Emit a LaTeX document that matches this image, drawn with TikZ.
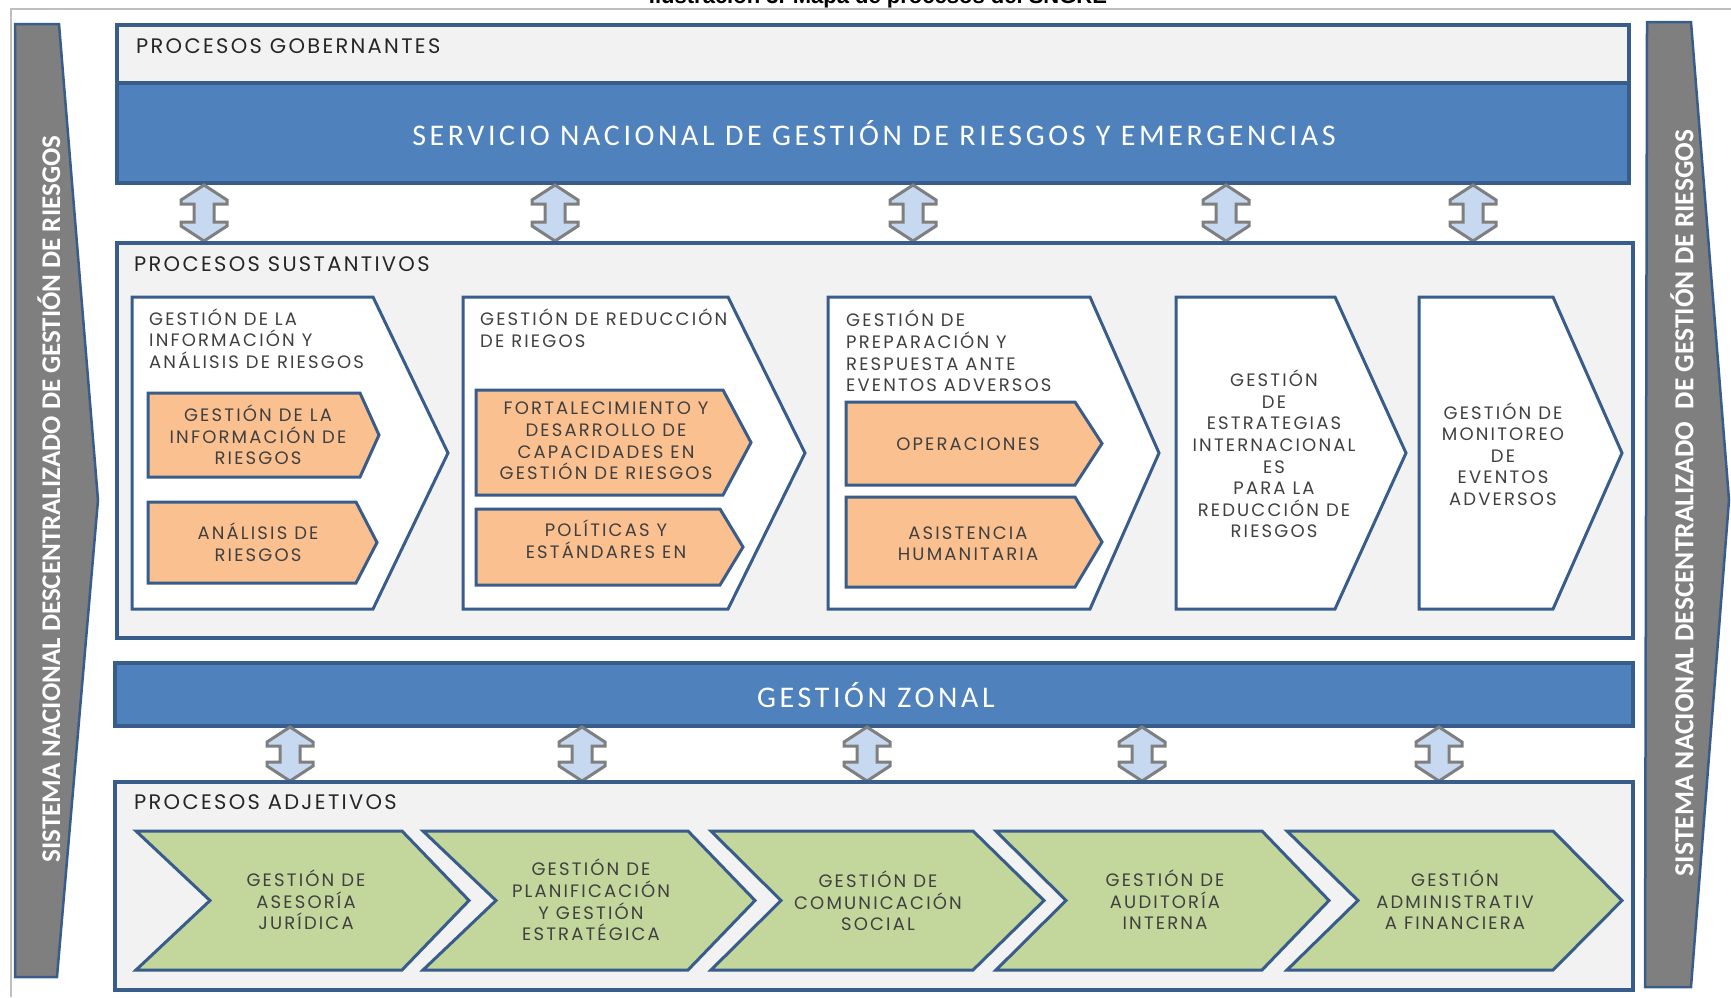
\documentclass[tikz,border=0pt]{standalone}
\usepackage{fontspec}
\setmainfont{Poppins}
\newfontfamily\geoS{Poppins}[LetterSpace=11]
\newfontfamily\geoT{Poppins}[LetterSpace=12]
\newfontfamily\carl{Carlito}
\newfontfamily\carlS{Carlito}[LetterSpace=12]
\newfontfamily\arialf{Liberation Sans}
\definecolor{bordblue}{HTML}{385D8A}
\definecolor{bandblue}{HTML}{4F81BD}
\definecolor{boxgray}{HTML}{F2F2F2}
\definecolor{orangefill}{HTML}{FAC090}
\definecolor{greenfill}{HTML}{C3D69B}
\definecolor{arrfill}{HTML}{C6D9F1}
\definecolor{arrgray}{HTML}{7F7F7F}
\definecolor{bargray}{HTML}{7F7F7F}
\definecolor{txtgray}{HTML}{404040}
\definecolor{framegray}{HTML}{BFBFBF}
\newcommand\chevshape[7]{%
  \draw[#1] (#2,#3) -- (#5,#3) -- (#6,{(#3+#4)/2}) -- (#5,#4) -- (#2,#4) -- ({#2+#7},{(#3+#4)/2}) -- cycle;}
\newcommand\udarrow[3]{%
  \draw[udarr] (#1,#2) -- ({#1+23},{#2+15}) -- ({#1+23},{#2+19}) -- ({#1+10},{#2+19}) -- ({#1+10},{#3-19}) -- ({#1+23},{#3-19}) -- ({#1+23},{#3-15}) -- (#1,#3) -- ({#1-23},{#3-15}) -- ({#1-23},{#3-19}) -- ({#1-10},{#3-19}) -- ({#1-10},{#2+19}) -- ({#1-23},{#2+19}) -- ({#1-23},{#2+15}) -- cycle;}
\begin{document}
\begin{tikzpicture}[x=1pt,y=-1pt,
  bigbox/.style={draw=bordblue,line width=3.5pt,fill=boxgray},
  band/.style={draw=bordblue,line width=3.5pt,fill=bandblue},
  whitechev/.style={draw=bordblue,line width=3pt,fill=white},
  orangechev/.style={draw=bordblue,line width=3pt,fill=orangefill},
  greenchev/.style={draw=bordblue,line width=3pt,fill=greenfill},
  udarr/.style={draw=arrgray,line width=3pt,fill=arrfill,line join=miter},
  sidebar/.style={draw=bordblue,line width=2.5pt,fill=bargray},
  sectlabel/.style={font=\geoS\fontsize{21}{23}\selectfont,text=black!85,inner sep=0pt,anchor=base west},
  bandlabel/.style={font=\carlS\fontsize{30}{34}\selectfont,text=white,inner sep=0pt},
  sidelabel/.style={font=\carl\bfseries\fontsize{27}{30}\selectfont,text=white,inner sep=0pt,rotate=90},
  ptext/.style={font=\geoT\fontsize{18}{21.6}\selectfont,text=txtgray,inner sep=0pt,align=center},
  ptextl/.style={font=\geoT\fontsize{18}{21.6}\selectfont,text=txtgray,inner sep=0pt,align=left,anchor=west}
]
\useasboundingbox (0,0) rectangle (1731,997);
% caption (cut off at top, as in the reference)
\node[font=\arialf\bfseries\fontsize{22}{24}\selectfont,anchor=base,inner sep=0pt] (caption) at (878,3) {Ilustración 3. Mapa de procesos del SNGRE};
% frame
\draw[framegray,line width=2pt] (1731,9) -- (11,9) -- (11,997);
% side bars
\draw[sidebar] (15,24) -- (59,24) -- (98,500) -- (57,977) -- (15,977) -- cycle;
\draw[sidebar] (1647,22) -- (1691,22) -- (1729,500) -- (1691,987) -- (1645,987) -- cycle;
\node[sidelabel] (leftlabel) at (49,499) {SISTEMA NACIONAL DESCENTRALIZADO DE GESTIÓN DE RIESGOS};
\node[sidelabel,font=\carl\bfseries\fontsize{27.5}{30}\selectfont] (rightlabel) at (1682,503) {SISTEMA NACIONAL DESCENTRALIZADO\ \ DE GESTIÓN DE RIESGOS};
% governing
\draw[bigbox] (117,25) rectangle (1629,83);
\draw[band] (117,83) rectangle (1629,183);
\node[sectlabel] (gob) at (136,53) {PROCESOS GOBERNANTES};
\node[bandlabel] (sngre) at (874,133) {SERVICIO NACIONAL DE GESTIÓN DE RIESGOS Y EMERGENCIAS};
% arrows row 1
\udarrow{204}{185}{241}
\udarrow{555}{185}{241}
\udarrow{913}{185}{241}
\udarrow{1226}{185}{241}
\udarrow{1473}{185}{241}
% sustantivos
\draw[bigbox] (117,243) rectangle (1633,638);
\node[sectlabel] (sust) at (134,271) {PROCESOS SUSTANTIVOS};
\chevshape{whitechev}{132}{297}{609}{373}{448}{0}
\chevshape{whitechev}{463}{297}{609}{728}{805}{0}
\chevshape{whitechev}{828}{297}{609}{1090}{1159}{0}
\chevshape{whitechev}{1176}{297}{609}{1335}{1406}{0}
\chevshape{whitechev}{1419}{297}{609}{1553}{1622}{0}
\chevshape{orangechev}{148}{393}{477}{360}{379}{0}
\chevshape{orangechev}{148}{502}{583}{356}{377}{0}
\chevshape{orangechev}{476}{390}{495}{723}{751}{0}
\chevshape{orangechev}{476}{509}{585}{720}{743}{0}
\chevshape{orangechev}{846}{402}{485}{1075}{1102}{0}
\chevshape{orangechev}{846}{497}{587}{1075}{1102}{0}
\node[ptextl] (s1) at (149,338.5) {GESTIÓN DE LA\\INFORMACIÓN Y\\ANÁLISIS DE RIESGOS};
\node[ptext] (s1a) at (258,435) {GESTIÓN DE LA\\INFORMACIÓN DE\\RIESGOS};
\node[ptext] (s1b) at (258,542.5) {ANÁLISIS DE\\RIESGOS};
\node[ptextl] (s2) at (480,328) {GESTIÓN DE REDUCCIÓN\\DE RIEGOS};
\node[ptext] (s2a) at (606,441) {FORTALECIMIENTO Y\\DESARROLLO DE\\CAPACIDADES EN\\GESTIÓN DE RIESGOS};
\node[ptext] (s2b) at (606,539) {POLÍTICAS Y\\ESTÁNDARES EN};
\node[ptextl] (s3) at (846,351) {GESTIÓN DE\\PREPARACIÓN Y\\RESPUESTA ANTE\\EVENTOS ADVERSOS};
\node[ptext] (s3a) at (968,444) {OPERACIONES};
\node[ptext] (s3b) at (968,543.5) {ASISTENCIA\\HUMANITARIA};
\node[ptext] (s4) at (1274,454) {GESTIÓN\\DE\\ESTRATEGIAS\\INTERNACIONAL\\ES\\PARA LA\\REDUCCIÓN DE\\RIESGOS};
\node[ptext] (s5) at (1503,454) {GESTIÓN DE\\MONITOREO\\DE\\EVENTOS\\ADVERSOS};
% zonal
\draw[band] (115,663) rectangle (1633,726);
\node[bandlabel] (zonal) at (876,695) {GESTIÓN ZONAL};
% arrows row 2
\udarrow{290}{727}{781}
\udarrow{582}{727}{781}
\udarrow{867}{727}{781}
\udarrow{1142}{727}{781}
\udarrow{1439}{727}{781}
% adjetivos
\draw[bigbox] (115,782) rectangle (1633,990);
\node[sectlabel] (adj) at (134,809) {PROCESOS ADJETIVOS};
\chevshape{greenchev}{136}{831}{970}{402}{469}{74}
\chevshape{greenchev}{423}{831}{970}{688}{755}{73}
\chevshape{greenchev}{711}{831}{970}{973}{1044}{70}
\chevshape{greenchev}{996}{831}{970}{1262}{1329}{70}
\chevshape{greenchev}{1287}{831}{970}{1553}{1622}{71}
\node[ptext] (a1) at (306,900) {GESTIÓN DE\\ASESORÍA\\JURÍDICA};
\node[ptext] (a2) at (591,900) {GESTIÓN DE\\PLANIFICACIÓN\\Y GESTIÓN\\ESTRATÉGICA};
\node[ptext] (a3) at (878,901) {GESTIÓN DE\\COMUNICACIÓN\\SOCIAL};
\node[ptext] (a4) at (1165,900) {GESTIÓN DE\\AUDITORÍA\\INTERNA};
\node[ptext] (a5) at (1455,900) {GESTIÓN\\ADMINISTRATIV\\A FINANCIERA};
\end{tikzpicture}
\end{document}
